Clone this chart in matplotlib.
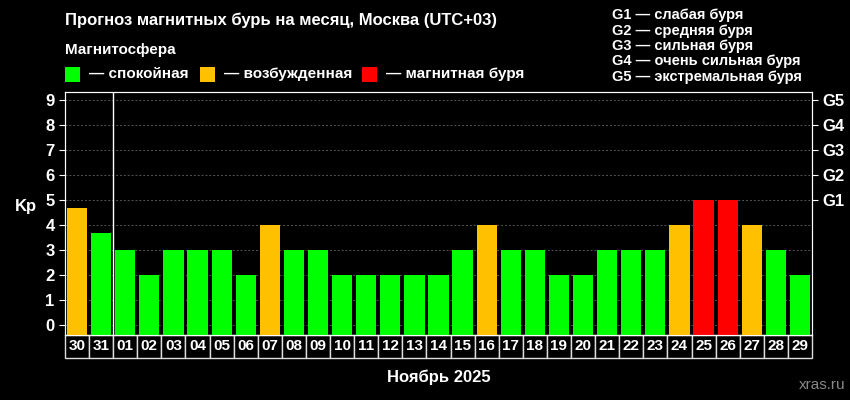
import matplotlib
matplotlib.use('Agg')
import matplotlib.pyplot as plt
from matplotlib.patches import Rectangle

plt.rcParams['font.family'] = ['Liberation Sans', 'DejaVu Sans']

days = ['30', '31', '01', '02', '03', '04', '05', '06', '07', '08', '09', '10', '11', '12', '13',
        '14', '15', '16', '17', '18', '19', '20', '21', '22', '23', '24', '25', '26', '27', '28', '29']
kp = [4.67, 3.67, 3, 2, 3, 3, 3, 2, 4, 3, 3, 2, 2, 2, 2,
      2, 3, 4, 3, 3, 2, 2, 3, 3, 3, 4, 5, 5, 4, 3, 2]
g_levels = ['G1', 'G2', 'G3', 'G4', 'G5']
g_kp = [5, 6, 7, 8, 9]
g_text = ['G1 — слабая буря', 'G2 — средняя буря', 'G3 — сильная буря',
          'G4 — очень сильная буря', 'G5 — экстремальная буря']

GREEN, ORANGE, RED = '#00ff00', '#ffc000', '#ff0000'


def kp_color(v):
    if v >= 5:
        return RED
    if v >= 4:
        return ORANGE
    return GREEN


W, H = 850, 400
fig = plt.figure(figsize=(8.5, 4), dpi=100, facecolor='black')
ax = fig.add_axes([65 / W, 1 - 335 / H, (812 - 65) / W, (335 - 92) / H])
ax.set_facecolor('black')

ymin, ymax = -0.4, 9.32
x = list(range(len(days)))
ax.bar(x, [v - ymin for v in kp], bottom=ymin, width=0.84,
       color=[kp_color(v) for v in kp], zorder=3)
ax.set_xlim(-0.5, len(days) - 0.5)
ax.set_ylim(ymin, ymax)
for k in range(10):
    ax.axhline(k, color='#555555', linestyle=(0, (2, 2)), linewidth=0.7, zorder=1)
ax.axvline(1.5, color='white', linewidth=1, zorder=4)

ax.set_yticks(range(10))
ax.tick_params(axis='y', colors='white', labelsize=12, length=4)
for lab in ax.get_yticklabels():
    lab.set_fontweight('bold')
ax.set_xticks([])
for s in ax.spines.values():
    s.set_color('white')
ax.set_ylabel('Kp', color='white', fontsize=12, fontweight='bold', rotation=0, labelpad=14)

ax2 = ax.twinx()
ax2.set_ylim(ymin, ymax)
ax2.set_yticks(g_kp)
ax2.set_yticklabels(g_levels)
ax2.tick_params(axis='y', colors='white', labelsize=12, length=4)
for lab in ax2.get_yticklabels():
    lab.set_fontweight('bold')
for s in ax2.spines.values():
    s.set_color('white')

# date boxes under the axis
box_h = (358 - 335) / (335 - 92) * (ymax - ymin)
for i, d in enumerate(days):
    ax.add_patch(Rectangle((i - 0.5, ymin - box_h), 1, box_h, facecolor='black',
                           edgecolor='#dddddd', linewidth=1, clip_on=False))
    ax.text(i, ymin - box_h / 2, d, color='white', fontsize=11, fontweight='bold',
            ha='center', va='center', clip_on=False)

fig.text(65 / W, 1 - 20 / H, 'Прогноз магнитных бурь на месяц, Москва (UTC+03)',
         color='white', fontsize=12, fontweight='bold', va='center')
fig.text(65 / W, 1 - 50 / H, 'Магнитосфера', color='white', fontsize=11,
         fontweight='bold', va='center')
legend = [(GREEN, '— спокойная', 65), (ORANGE, '— возбужденная', 200), (RED, '— магнитная буря', 362)]
for c, t, px in legend:
    fig.patches.append(Rectangle((px / W, 1 - 82 / H), 15 / W, 15 / H, facecolor=c,
                                 transform=fig.transFigure))
    fig.text((px + 24) / W, 1 - 74 / H, t, color='white', fontsize=11,
             fontweight='bold', va='center')
for j, t in enumerate(g_text):
    fig.text(612 / W, 1 - (15 + j * 15.5) / H, t, color='white', fontsize=10.5,
             fontweight='bold', va='center')

fig.text(0.5 * (65 + 812) / W, 1 - 377 / H, 'Ноябрь 2025', color='white', fontsize=12,
         fontweight='bold', ha='center', va='center')
fig.text(845 / W, 1 - 385 / H, 'xras.ru', color='#888888', fontsize=11, ha='right', va='center')

fig.savefig('out.png', dpi=100, facecolor='black')
